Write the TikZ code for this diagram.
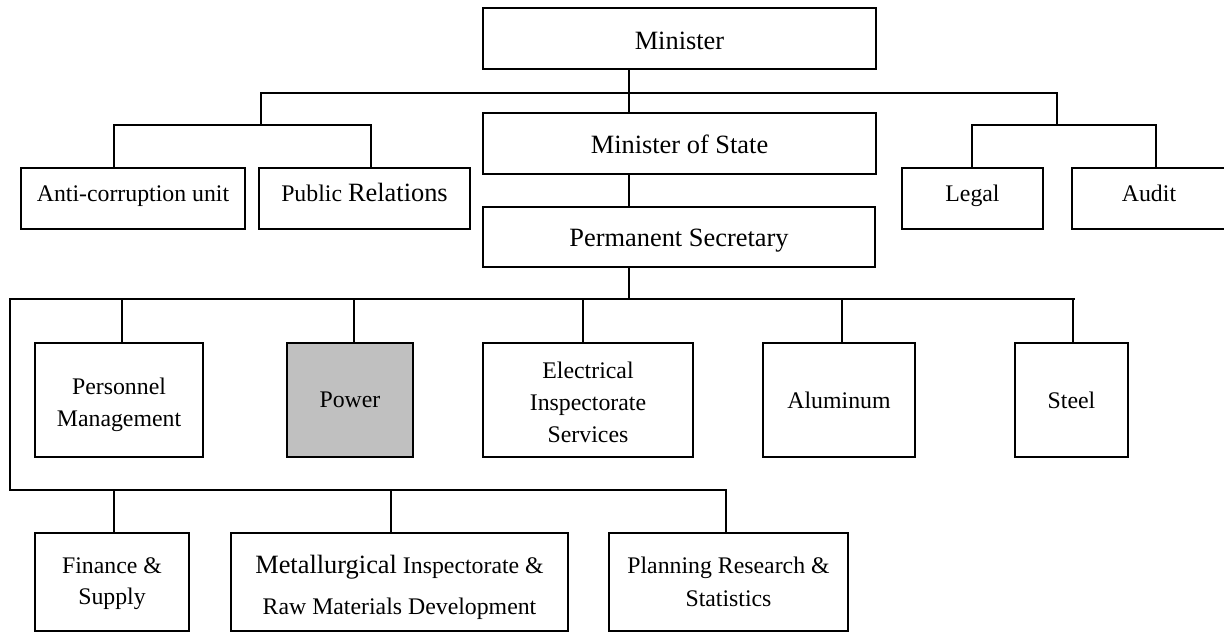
\documentclass[tikz,border=0pt]{standalone}
\usepackage{fontspec}
\setmainfont{Liberation Serif}
\definecolor{powergray}{HTML}{C0C0C0}
% \orgbox[options]{name}{x1}{y1}{x2}{y2}: empty framed box between two corners
\newcommand\orgbox[6][]{%
  \node[box,#1,minimum width={(#5-#3)*1pt},minimum height={(#6-#4)*1pt}]
    (#2) at ({(#3+#5)/2},{(#4+#6)/2}) {};}
\newcommand\bigtext{\fontsize{26.4}{31}\selectfont}
\begin{document}
\begin{tikzpicture}[x=1pt,y=-1pt,
  box/.style={draw=black,line width=1.8pt,rectangle,inner sep=0pt,outer sep=0pt},
  lbl/.style={anchor=base,inner sep=0pt,font=\fontsize{23.8}{28}\selectfont},
  biglbl/.style={lbl,font=\bigtext},
  wire/.style={line width=1.8pt,line cap=rect}]
\useasboundingbox (0,0) rectangle (1224,632);

% ---- boxes ----
\orgbox{min}{483}{8}{876}{69}
\orgbox{ms}{483}{113}{876}{174}
\orgbox{ps}{483}{207}{875}{267}
\orgbox{ac}{21}{168}{245}{229}
\orgbox{pr}{259}{168}{470}{229}
\orgbox{lg}{902}{168}{1043}{229}
\orgbox{au}{1072}{168}{1226}{229}
\orgbox{pm}{35}{343}{203}{457}
\orgbox[fill=powergray]{pw}{287}{343}{413}{457}
\orgbox{eis}{483}{343}{693}{457}
\orgbox{alu}{763}{343}{915}{457}
\orgbox{stl}{1015}{343}{1128}{457}
\orgbox{fin}{35}{533}{189}{631}
\orgbox{met}{231}{533}{568}{631}
\orgbox{pl}{609}{533}{848}{631}

% ---- labels ----
\node[biglbl] (minT) at (679.5,49) {Minister};
\node[biglbl] (msT) at (679.5,153) {Minister of State};
\node[biglbl] (psT) at (679,246) {Permanent Secretary};
\node[lbl] (acT) at (133,201) {Anti-corruption unit};
\node[lbl] (prT) at (364.5,201) {Public {\bigtext Relations}};
\node[lbl] (lgT) at (972.5,201) {Legal};
\node[lbl] (auT) at (1149,201) {Audit};
\node[lbl] (pmT1) at (119,394) {Personnel};
\node[lbl] (pmT2) at (119,426) {Management};
\node[lbl] (pwT) at (350,407) {Power};
\node[lbl] (eisT1) at (588,378) {Electrical};
\node[lbl] (eisT2) at (588,410) {Inspectorate};
\node[lbl] (eisT3) at (588,442) {Services};
\node[lbl] (aluT) at (839,408) {Aluminum};
\node[lbl] (stlT) at (1071.5,408) {Steel};
\node[lbl] (finT1) at (112,573) {Finance \&};
\node[lbl] (finT2) at (112,604) {Supply};
\node[lbl] (metT1) at (399.5,573) {{\bigtext Metallurgical} Inspectorate \&};
\node[lbl] (metT2) at (399.5,614) {Raw Materials Development};
\node[lbl] (plT1) at (728.5,573) {Planning Research \&};
\node[lbl] (plT2) at (728.5,606) {Statistics};

% ---- junction points ----
\coordinate (trunk) at (629,93);
\coordinate (tL) at (261,93);
\coordinate (tR) at (1057,93);
\coordinate (lA) at (114,125);
\coordinate (lB) at (371,125);
\coordinate (rA) at (972,125);
\coordinate (rB) at (1156,125);
\coordinate (mid) at (629,299);
\coordinate (mL) at (10,299);
\coordinate (mR) at (1074,299);
\coordinate (d1) at (122,299);
\coordinate (d2) at (354,299);
\coordinate (d3) at (583,299);
\coordinate (d4) at (842,299);
\coordinate (d5) at (1073,299);
\coordinate (bL) at (10,490);
\coordinate (e1) at (114,490);
\coordinate (e2) at (391,490);
\coordinate (e3) at (726,490);

% ---- connectors ----
\draw[wire] (min.south -| trunk) -- (ms.north -| trunk);
\draw[wire] (tL) -- (tR);
\draw[wire] (tL) -- (tL |- lA);
\draw[wire] (lA |- ac.north) -- (lA) -- (lB) -- (lB |- pr.north);
\draw[wire] (tR) -- (tR |- rA);
\draw[wire] (rA |- lg.north) -- (rA) -- (rB) -- (rB |- au.north);
\draw[wire] (ms.south -| trunk) -- (ps.north -| trunk);
\draw[wire] (ps.south -| mid) -- (mid);
\draw[wire] (mL) -- (mR);
\draw[wire] (d1) -- (d1 |- pm.north);
\draw[wire] (d2) -- (d2 |- pw.north);
\draw[wire] (d3) -- (d3 |- eis.north);
\draw[wire] (d4) -- (d4 |- alu.north);
\draw[wire] (d5) -- (d5 |- stl.north);
\draw[wire] (mL) -- (bL) -- (e3);
\draw[wire] (e1) -- (e1 |- fin.north);
\draw[wire] (e2) -- (e2 |- met.north);
\draw[wire] (e3) -- (e3 |- pl.north);
\end{tikzpicture}
\end{document}
